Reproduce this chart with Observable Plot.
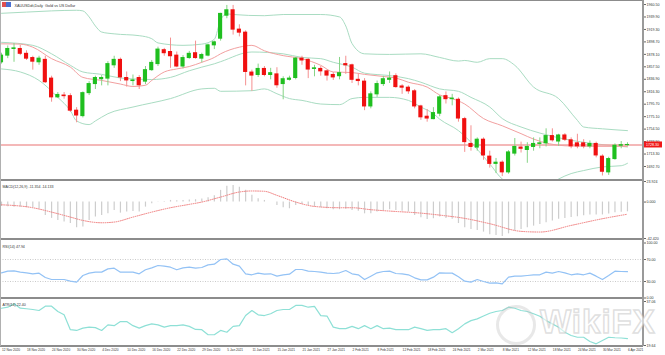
<!DOCTYPE html>
<html><head><meta charset="utf-8">
<script src="https://cdn.jsdelivr.net/npm/d3@7"></script>
<script src="https://cdn.jsdelivr.net/npm/@observablehq/plot@0.6"></script>
<style>
body{margin:0;background:#fff;}
#root{position:relative;width:665px;height:355px;overflow:hidden;background:#fff;}
.sep{position:absolute;left:0;width:643px;height:2px;background:#8c8c8c;}
</style></head><body><div id="root"></div>
<script>
// ---------- DATA ----------
const title = "XAUUSDdt,Daily  Gold vs US Dollar";
const dateLabels = ["12 Nov 2020","18 Nov 2020","24 Nov 2020","30 Nov 2020","4 Dec 2020","10 Dec 2020","16 Dec 2020","22 Dec 2020","29 Dec 2020","5 Jan 2021","11 Jan 2021","15 Jan 2021","21 Jan 2021","27 Jan 2021","2 Feb 2021","8 Feb 2021","12 Feb 2021","18 Feb 2021","24 Feb 2021","2 Mar 2021","8 Mar 2021","12 Mar 2021","18 Mar 2021","24 Mar 2021","30 Mar 2021","6 Apr 2021"];
const dateLabelBars = [0,4,8,12,16,20,24,28,32,36,40,44,48,52,56,60,64,68,72,76,80,84,88,92,96,100];
const priceTicks = [1692.70,1713.30,1733.90,1754.50,1775.10,1795.70,1816.30,1836.90,1857.50,1878.10,1898.70,1919.30,1939.90,1960.50];
const macdTicks = [23.924, 0, -42.420];
const rsiTicks = [100, 70, 30, 0];
const rsiLevels = [70, 30];
const atrTicks = [37.06, 19.64];
const lastPrice = 1728.30;

const open = [1865,1876,1887,1887,1879,1872,1865,1869,1838,1807,
1810,1809,1785,1776,1814,1829,1837,1838,1860,1869,
1839,1834,1839,1833,1852,1862,1885,1882,1876,1858,
1872,1880,1871,1876,1893,1904,1942,1951,1919,1914,
1848,1844,1854,1844,1845,1829,1836,1839,1871,1869,
1854,1854,1850,1844,1842,1862,1860,1836,1833,1792,
1812,1829,1836,1842,1825,1823,1817,1792,1775,1771,
1780,1809,1804,1803,1771,1730,1724,1737,1709,1697,
1699,1683,1714,1724,1720,1725,1730,1731,1743,1734,
1744,1736,1731,1731,1726,1730,1709,1683,1705,1727,
1728];
const high = [1880,1892,1896,1893,1884,1875,1875,1875,1842,1815,
1815,1813,1790,1816,1833,1842,1843,1866,1875,1872,
1849,1844,1843,1858,1868,1890,1888,1905,1882,1876,
1883,1900,1880,1895,1900,1946,1959,1959,1927,1917,
1852,1862,1858,1855,1856,1841,1842,1873,1875,1871,
1860,1858,1852,1848,1873,1875,1862,1846,1838,1816,
1834,1842,1849,1846,1828,1826,1820,1794,1787,1790,
1810,1816,1812,1806,1774,1760,1740,1740,1718,1706,
1702,1719,1739,1733,1732,1740,1740,1755,1755,1746,
1747,1740,1746,1737,1735,1733,1712,1708,1730,1734,
1732];
const low = [1862,1871,1865,1876,1868,1852,1860,1830,1799,1805,
1804,1782,1765,1773,1810,1820,1826,1826,1855,1833,
1824,1826,1820,1828,1850,1858,1875,1855,1856,1854,
1870,1870,1864,1874,1886,1900,1937,1910,1907,1826,
1817,1840,1841,1836,1822,1803,1834,1836,1860,1838,
1841,1842,1834,1835,1836,1845,1830,1826,1785,1788,
1807,1825,1830,1822,1812,1812,1788,1769,1766,1770,
1775,1796,1793,1766,1716,1718,1718,1703,1690,1681,
1676,1680,1710,1715,1698,1718,1722,1725,1733,1726,
1734,1722,1722,1722,1722,1707,1677,1678,1703,1722,
1726];
const close = [1876,1887,1888,1879,1871,1866,1871,1832,1807,1811,
1809,1785,1777,1814,1829,1839,1839,1862,1869,1840,
1835,1835,1827,1852,1864,1886,1880,1875,1858,1872,
1879,1872,1877,1893,1898,1945,1951,1919,1914,1849,
1843,1854,1844,1847,1827,1837,1838,1871,1868,1853,
1855,1850,1843,1840,1847,1860,1836,1834,1792,1812,
1829,1837,1838,1824,1823,1817,1792,1774,1772,1781,
1807,1804,1805,1772,1733,1725,1737,1711,1697,1699,
1683,1716,1725,1722,1725,1730,1731,1743,1736,1744,
1737,1726,1726,1726,1730,1711,1684,1705,1727,1728,
1728.3];

// Bollinger bands and moving average, read as [bar, price]
const bbUpper = [[0,1946],[4,1948],[8,1950],[12,1951],[13,1950],[14,1940],[15,1925],[16,1915],[18,1912],[22,1909],[24,1904],[25,1897],[29,1893],[32,1895],[34,1903],[35,1935],[36,1945],[37,1944],[42,1942],[45,1944],[51,1944],[54,1940],[55,1925],[56,1896],[58,1879],[62,1878],[67,1879],[70,1873],[73,1867],[74,1868],[76,1865],[78,1871],[80,1871],[82,1860],[85,1824],[89,1805],[92,1769],[93,1758],[96,1755],[100,1752]];
const bbMiddle = [[0,1898],[5,1893],[8,1879],[11,1860],[13,1849],[16,1845],[19,1839],[21,1837.5],[24,1836.5],[27,1840],[30,1851],[32,1857],[34,1862.5],[35,1866],[40,1882],[45,1879],[48,1873],[51,1871],[53,1865],[56,1857],[58,1847],[62,1843],[65,1838],[67,1832],[70,1821],[73,1817],[75,1807],[78,1791],[80,1772],[83,1758],[86,1748],[90,1738],[95,1730],[100,1725]];
const bbLower = [[0,1854],[3,1849],[6,1835],[9,1807],[11,1785],[12,1768],[14,1762],[15,1768],[17,1780],[21,1791],[27,1805],[32,1821],[34,1822],[35,1817],[40,1818],[42,1821],[44,1813],[46,1805],[48,1802],[51,1796],[54,1795],[56,1805],[58,1807],[62,1807],[65,1802],[67,1791],[69,1780],[70,1771],[73,1752],[78,1697],[80,1672],[82,1664],[85,1662],[88,1666],[89,1672],[91,1681],[93,1686],[96,1692],[99,1694],[100,1698]];
const maLine = [[0,1895.5],[3,1895],[5,1890],[8,1871],[11,1857],[13,1840],[16,1835],[19,1829],[21,1825],[23,1827],[24,1835],[26,1849],[28,1854],[30,1858],[32,1865],[34,1873],[35,1879],[38,1890],[40,1893],[42,1884],[45,1876],[48,1871],[51,1860],[53,1849],[56,1848],[58,1845],[61,1841.5],[63,1839],[65,1832],[68,1824],[70,1811],[72,1805],[74,1796],[77,1772],[80,1760],[83,1747],[85,1738],[90,1727],[95,1726],[100,1726]];

const macdMain = [-5.1,-5.5,-6,-6,-6.5,-6.7,-8,-15.6,-19,-21.4,
-23.3,-25,-29.9,-29.1,-21.4,-17.5,-15.6,-13.7,-9.8,-12.9,
-11.7,-10.9,-11.7,-5.9,-2,0.3,0.7,1.9,1.5,1.9,
2.3,2.7,3.5,5,7.4,13.6,18.5,19.3,17.3,13.6,
7.8,3.9,1.9,0,-3.9,-6.6,-7.8,-3.9,-2.7,-3.9,
-5.1,-6.6,-7.8,-8.9,-8.9,-8.5,-9.8,-10.6,-13.7,-13.7,
-11.7,-9.8,-8.9,-9.8,-10.6,-11.7,-15.6,-18.3,-20.2,-19.4,
-17.5,-19,-20,-25,-30,-32,-33,-35,-38,-39,
-40,-37,-34,-32,-30,-28,-26,-24,-22,-20,
-19,-18,-17,-16,-15,-15,-15,-14,-12.5,-12,
-11.354];
const macdSignal = [[0,-3.2],[5,-6.6],[8,-11.7],[11,-17.5],[13,-21.4],[16,-24.1],[18,-23.3],[21,-17.5],[24,-11.7],[27,-6.6],[30,-2.7],[32,0],[35,5.8],[38,11.7],[40,12.9],[42,12.5],[44,7.8],[47,0],[50,-5.1],[54,-6.6],[56,-6.6],[59,-8.9],[62,-10.5],[67,-12.9],[70,-15.2],[74,-19],[78,-25.2],[83,-34.1],[86,-34.9],[91,-27.2],[96,-19.4],[100,-14.133]];

const rsi = [45.8,48.8,49.4,47,45.8,44,45.2,37.3,33.6,33.6,
33.6,30.6,28.8,40.9,45.2,47,47,53,54.2,47,
47,47,44,51.3,54.8,59.1,57.9,56,51.3,54.8,
56,54.2,55.5,60.3,61.5,70,71.2,61.5,57.9,44,
42.2,45.2,43.3,44,39.7,42.2,43.3,51.8,51.8,48.8,
48.2,47,45.2,44.5,45.8,50,44,42.2,33.6,39.7,
45.8,48.2,48.8,44.5,44,42.2,36.7,33,33,37.9,
45.8,45.2,45.2,38.5,30.6,28.8,33.6,30,27,27.6,
25.8,37.9,39.7,39.7,40.9,42.2,42.2,47,45.2,48.2,
45.8,42.2,44,42.2,45.2,39.7,33.6,40.9,48.8,48.2,
47.94];

const atr = [34.4,34.8,36.2,34.4,34.2,33.9,33.5,35.2,35.2,33.1,
31.8,25.9,25.6,26.5,26.9,26.7,25.6,27.8,27.5,29.1,
29.1,27.5,26.5,27.5,28.2,27.8,26.9,27.5,27.5,27.8,
27.2,26,25.9,23.9,23.9,25.6,24.9,27.2,27.5,31.5,
33.5,31.8,31.5,32.2,33.5,33.9,33.9,35.5,35.5,34.8,
35.1,31.5,31.3,26.9,26.3,26.3,27.2,26.3,27.5,26.3,
27.5,26.3,26.5,25.9,25.9,25.9,26.9,26.3,25.6,25.9,
25.9,26.3,24.7,26.3,28.2,29.5,30.2,31.3,32.4,33.1,
33.5,34.8,34.4,33.5,33.1,32.2,31.2,29.5,28.2,26.9,
24.9,23.6,22.9,22.9,21.2,20.3,21.6,22.9,22.7,22.6,
22.40];

// ---------- BUILD ----------
const root = document.getElementById("root");
const FONT = "'Liberation Sans', 'DejaVu Sans', sans-serif";
const W = 665, MR = 22;
const xDomain = [-0.16, 102.56];
const bars = d3.range(open.length).map(i => ({i, o: open[i], h: high[i], l: low[i], c: close[i]}));
const style = {background: "transparent", fontFamily: FONT, fontSize: "3.6px", overflow: "visible", color: "#222"};
const axisOpts = {anchor: "right", tickSize: 2, tickPadding: 1, fontSize: 3.6, stroke: "#666", fill: "#333", label: null};

function place(svg, top) {
  svg.style.position = "absolute"; svg.style.left = "0px"; svg.style.top = top + "px";
  root.appendChild(svg);
}
const up = d => d.c >= d.o;

// price panel
place(Plot.plot({
  width: W, height: 180, marginLeft: 0, marginRight: MR, marginTop: 1, marginBottom: 1,
  x: {domain: xDomain, axis: null}, y: {domain: [1671.2, 1965.5], axis: null}, style,
  marks: [
    Plot.line(bbUpper, {x: d => d[0], y: d => d[1], stroke: "#a9dcc2", strokeWidth: 1, curve: "monotone-x", clip: true}),
    Plot.line(bbMiddle, {x: d => d[0], y: d => d[1], stroke: "#a9dcc2", strokeWidth: 1, curve: "monotone-x", clip: true}),
    Plot.line(bbLower, {x: d => d[0], y: d => d[1], stroke: "#a9dcc2", strokeWidth: 1, curve: "monotone-x", clip: true}),
    Plot.line(maLine, {x: d => d[0], y: d => d[1], stroke: "#f2a0a0", strokeWidth: 1, curve: "monotone-x", clip: true}),
    Plot.ruleY([lastPrice], {stroke: "#f0a0a0", strokeWidth: 1.4}),
    Plot.ruleX(bars, {x: "i", y1: "l", y2: "h", stroke: d => up(d) ? "#86d486" : "#f59090", strokeWidth: 1}),
    Plot.rect(bars, {x1: d => d.i - 0.33, x2: d => d.i + 0.33, y1: "o", y2: "c", fill: d => up(d) ? "#1fbf1f" : "#f01010", insetTop: -0.5, insetBottom: -0.5}),
    Plot.axisY({...axisOpts, ticks: priceTicks, tickFormat: d => d.toFixed(2)}),
    Plot.rect([lastPrice], {x1: xDomain[1], x2: xDomain[1], y1: d => d, y2: d => d, fill: "#f01818", insetLeft: 0.5, insetRight: -19, insetTop: -3, insetBottom: -3}),
    Plot.text([lastPrice], {x: xDomain[1], y: d => d, text: d => d.toFixed(2), dx: 2.5, textAnchor: "start", fill: "white", fontSize: 3.6}),
    Plot.text([title], {frameAnchor: "top-left", dx: 14, dy: 2.5, textAnchor: "start", fill: "#333", fontSize: 3.8})
  ]
}), 0);

// MACD
place(Plot.plot({
  width: W, height: 57, marginLeft: 0, marginRight: MR, marginTop: 0, marginBottom: 0,
  x: {domain: xDomain, axis: null}, y: {domain: [-42.42, 23.924], axis: null}, style,
  marks: [
    Plot.ruleX(macdMain, {x: (d, i) => i, y1: 0, y2: d => d, stroke: "#cdcdcd", strokeWidth: 1.2}),
    Plot.line(macdSignal, {x: d => d[0], y: d => d[1], stroke: "#f07878", strokeWidth: 1, strokeDasharray: "0.8,1.4", curve: "monotone-x"}),
    Plot.axisY({...axisOpts, ticks: macdTicks, tickFormat: d => d.toFixed(3)}),
    Plot.text(["MACD(12,26,9) -11.354 -14.133"], {frameAnchor: "top-left", dx: 2, dy: 3.5, textAnchor: "start", fill: "#333", fontSize: 3.6})
  ]
}), 181);

// RSI
place(Plot.plot({
  width: W, height: 58, marginLeft: 0, marginRight: MR, marginTop: 2.5, marginBottom: 0.5,
  x: {domain: xDomain, axis: null}, y: {domain: [0, 100], axis: null}, style,
  marks: [
    Plot.ruleY(rsiLevels, {stroke: "#bdbdbd", strokeWidth: 0.8, strokeDasharray: "1,1.5"}),
    Plot.line(rsi, {x: (d, i) => i, y: d => d, stroke: "#93c2f5", strokeWidth: 1.2}),
    Plot.axisY({...axisOpts, ticks: rsiTicks, tickFormat: d => d.toFixed(2)}),
    Plot.text(["RSI(14) 47.94"], {frameAnchor: "top-left", dx: 2, dy: 2.5, textAnchor: "start", fill: "#333", fontSize: 3.6})
  ]
}), 240);

// ATR + date axis
place(Plot.plot({
  width: W, height: 57, marginLeft: 0, marginRight: MR, marginTop: 2, marginBottom: 11,
  x: {domain: xDomain, axis: null}, y: {domain: [19.64, 37.06], axis: null}, style,
  marks: [
    Plot.line(atr, {x: (d, i) => i, y: d => d, stroke: "#8ee0d6", strokeWidth: 1.2}),
    Plot.axisY({...axisOpts, ticks: atrTicks, tickFormat: d => d.toFixed(2)}),
    Plot.axisX({ticks: dateLabelBars, tickFormat: d => dateLabels[dateLabelBars.indexOf(d)], textAnchor: "start", tickSize: 2, tickPadding: 1.5, dx: 0.5, fontSize: 3.2, stroke: "#666", fill: "#333", label: null}),
    Plot.text(["ATR(14) 22.40"], {frameAnchor: "top-left", dx: 2, dy: 1.5, textAnchor: "start", fill: "#333", fontSize: 3.6})
  ]
}), 299);

// frame lines (decoration)
function line(css) { const d = document.createElement("div"); d.style.cssText = "position:absolute;" + css; root.appendChild(d); }
line("left:0;top:0;width:643px;height:1px;background:#8c8c8c;");
line("left:0;top:179px;width:643px;height:2px;background:#8c8c8c;");
line("left:0;top:238px;width:643px;height:2px;background:#8c8c8c;");
line("left:0;top:297px;width:643px;height:2px;background:#8c8c8c;");
line("left:0;top:345px;width:643px;height:1.5px;background:#8c8c8c;");
line("left:642px;top:0;width:1.5px;height:346px;background:#9a9a9a;");
line("left:0;top:0;width:1px;height:346px;background:#b0b0b0;");
// icon
line("left:2px;top:2px;width:4px;height:5px;background:#e05050;");
line("left:6px;top:2px;width:5px;height:5px;background:#4a6fd0;");
// watermark
const wm = document.createElement("div");
wm.style.cssText = "position:absolute;left:496px;top:303px;width:150px;height:44px;pointer-events:none;";
wm.innerHTML = '<div style="position:absolute;left:0;top:2px;width:34px;height:34px;border:3px solid rgba(190,190,190,0.35);border-radius:50%;"></div>' +
  '<div style="position:absolute;left:44px;top:0;font:bold 33px ' + FONT + ';color:rgba(255,255,255,0.6);-webkit-text-stroke:1.5px rgba(185,185,185,0.45);letter-spacing:1px;">WikiFX</div>';
root.appendChild(wm);
</script></body></html>
